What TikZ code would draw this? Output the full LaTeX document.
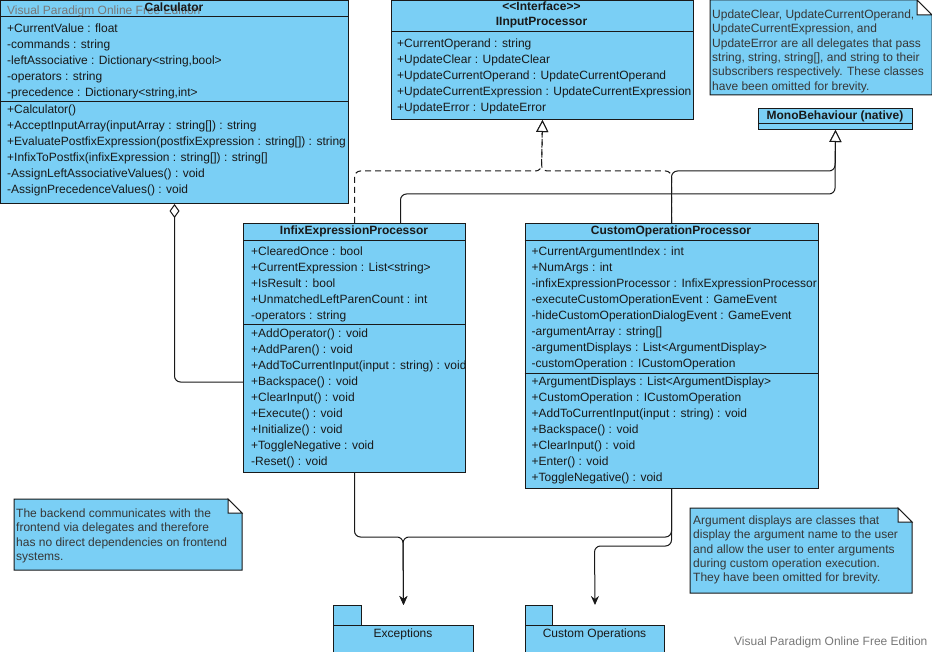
\documentclass[tikz,border=0pt]{standalone}
\usepackage{fontspec}
\setmainfont{Liberation Sans}
\usetikzlibrary{arrows.meta,calc,positioning}
\definecolor{umlblue}{RGB}{122,207,245}
\definecolor{umlline}{RGB}{25,25,25}
\definecolor{notetext}{RGB}{55,55,55}
\definecolor{wmgray}{RGB}{120,120,120}
\tikzset{
    cls/.style = {draw=umlline, fill=umlblue, line width=1pt, rectangle,
        inner sep=0pt, anchor=north west},
    cname/.style = {font=\fontsize{12}{14}\selectfont\bfseries, inner sep=0pt,
        text=umlline, text height=9pt, text depth=2pt},
    row/.style = {anchor=west, inner sep=0pt, text=umlline,
        text height=9pt, text depth=2pt},
    sep/.style = {draw=umlline, line width=1pt},
    notebox/.style = {draw=umlline, fill=umlblue, line width=1pt},
    fold/.style = {draw=umlline, fill=white, line width=1pt},
    notetxt/.style = {anchor=north west, inner sep=0pt, align=left, text=notetext,
        font=\fontsize{12}{14.4}\selectfont},
    pkg/.style = {draw=umlline, fill=umlblue, line width=1pt, rectangle,
        inner sep=0pt, anchor=north west},
    wm/.style = {inner sep=0pt, text=wmgray, anchor=west},
    realize/.style = {draw=umlline, line width=1pt, dash pattern=on 6pt off 4pt,
        rounded corners=6pt, -{Triangle[open,length=12pt,width=12pt,fill=white]}},
    inherit/.style = {draw=umlline, line width=1pt, rounded corners=6pt,
        -{Triangle[open,length=12pt,width=12pt,fill=white]}},
    aggr/.style = {draw=umlline, line width=1pt, rounded corners=6pt,
        {Diamond[open,length=14pt,width=10pt,fill=white]}-},
    dep/.style = {draw=umlline, line width=1pt, rounded corners=6pt,
        -{Stealth[length=9pt,width=8pt]}}
}

\begin{document}
\begin{tikzpicture}[x=1pt, y=-1pt, font=\fontsize{12}{14}\selectfont]
    \clip (0,0) rectangle (932,652);
    \fill[white] (0,0) rectangle (932,652);

    % Calculator
    \node[cls, minimum width=348, minimum height=203] (calc) at (0,0) {};
    \draw[sep] (0,17) -- (348,17) (0,102) -- (348,102);
    \node[wm] (wmtop) at (7,11) {Visual Paradigm Online Free Edition};
    \node[cname] (calcname) at (174,8) {Calculator};
    \foreach \t [count=\i] in {{+CurrentValue : float}, {-commands : string},
        {-leftAssociative : Dictionary<string,bool>}, {-operators : string},
        {-precedence : Dictionary<string,int>}}
        \node[row] (calc-a\i) at (7,{13+16*\i}) {\t};
    \foreach \t [count=\i] in {{+Calculator()}, {+AcceptInputArray(inputArray : string[]) : string},
        {+EvaluatePostfixExpression(postfixExpression : string[]) : string},
        {+InfixToPostfix(infixExpression : string[]) : string[]},
        {-AssignLeftAssociativeValues() : void}, {-AssignPrecedenceValues() : void}}
        \node[row] (calc-m\i) at (7,{94.5+16*\i}) {\t};

    % IInputProcessor
    \node[cls, minimum width=302, minimum height=119] (iip) at (391,0) {};
    \draw[sep] (391,32) -- (693,32);
    \node[cname] (iipst) at (541.5,7.5) {<\kern0pt<Interface>\kern0pt>};
    \node[cname] (iipname) at (541.5,22.5) {IInputProcessor};
    \foreach \t [count=\i] in {{+CurrentOperand : string}, {+UpdateClear : UpdateClear},
        {+UpdateCurrentOperand : UpdateCurrentOperand},
        {+UpdateCurrentExpression : UpdateCurrentExpression},
        {+UpdateError : UpdateError}}
        \node[row] (iip-a\i) at (397,{28.5+16*\i}) {\t};

    % MonoBehaviour
    \node[cls, minimum width=154, minimum height=21] (mono) at (758,108) {};
    \draw[sep] (758,124) -- (912,124);
    \node[cname] (mononame) at (835,116) {MonoBehaviour (native)};

    % InfixExpressionProcessor
    \node[cls, minimum width=222, minimum height=249] (iep) at (243,223) {};
    \draw[sep] (243,240.5) -- (465,240.5) (243,325) -- (465,325);
    \node[cname] (iepname) at (354,231) {InfixExpressionProcessor};
    \foreach \t [count=\i] in {{+ClearedOnce : bool}, {+CurrentExpression : List<string>},
        {+IsResult : bool}, {+UnmatchedLeftParenCount : int}, {-operators : string}}
        \node[row] (iep-a\i) at (251,{235.7+16*\i}) {\t};
    \foreach \t [count=\i] in {{+AddOperator() :  void}, {+AddParen() : void},
        {+AddToCurrentInput(input : string) : void}, {+Backspace() : void},
        {+ClearInput() : void}, {+Execute() : void}, {+Initialize() : void},
        {+ToggleNegative : void}, {-Reset() : void}}
        \node[row] (iep-m\i) at (251,{317.7+16*\i}) {\t};

    % CustomOperationProcessor
    \node[cls, minimum width=293, minimum height=265] (cop) at (524.5,223) {};
    \draw[sep] (524.5,240.5) -- (817.5,240.5) (524.5,373.5) -- (817.5,373.5);
    \node[cname] (copname) at (671,231) {CustomOperationProcessor};
    \foreach \t [count=\i] in {{+CurrentArgumentIndex : int}, {+NumArgs : int},
        {-infixExpressionProcessor : InfixExpressionProcessor},
        {-executeCustomOperationEvent : GameEvent},
        {-hideCustomOperationDialogEvent : GameEvent},
        {-argumentArray : string[]}, {-argumentDisplays : List<ArgumentDisplay>},
        {-customOperation : ICustomOperation}}
        \node[row] (cop-a\i) at (531.5,{235.7+16*\i}) {\t};
    \foreach \t [count=\i] in {{+ArgumentDisplays : List<ArgumentDisplay>},
        {+CustomOperation : ICustomOperation},
        {+AddToCurrentInput(input : string) : void}, {+Backspace() : void},
        {+ClearInput() : void}, {+Enter() : void}, {+ToggleNegative() : void}}
        \node[row] (cop-m\i) at (531.5,{365.7+16*\i}) {\t};

    % notes
    \draw[notebox] (710,0) -- (917,0) -- (932,15) -- (932,95) -- (710,95) -- cycle;
    \draw[fold] (917,0) -- (917,15) -- (932,15) -- cycle;
    \node[notetxt] (delegnote) at (712,9.5) {UpdateClear, UpdateCurrentOperand,\\
        UpdateCurrentExpression, and\\UpdateError are all delegates that pass\\
        string, string, string[], and string to their\\
        subscribers respectively. These classes\\have been omitted for brevity.};

    \draw[notebox] (14,499) -- (228,499) -- (242,513) -- (242,570) -- (14,570) -- cycle;
    \draw[fold] (228,499) -- (228,513) -- (242,513) -- cycle;
    \node[notetxt] (backnote) at (16,508.5) {The backend communicates with the\\
        frontend via delegates and therefore\\has no direct dependencies on frontend\\
        systems.};

    \draw[notebox] (690,508) -- (898,508) -- (912,522) -- (912,593) -- (690,593) -- cycle;
    \draw[fold] (898,508) -- (898,522) -- (912,522) -- cycle;
    \node[notetxt] (argnote) at (693,515.5) {Argument displays are classes that\\
        display the argument name to the user\\and allow the user to enter arguments\\
        during custom operation execution.\\They have been omitted for brevity.};

    % packages
    \node[pkg, minimum width=28, minimum height=21] (exctab) at (333,605) {};
    \node[pkg, minimum width=140, minimum height=45] (exc) at (333,625) {};
    \node[inner sep=0pt, text=umlline] (excname) at (403,634) {Exceptions};
    \node[pkg, minimum width=27, minimum height=21] (custtab) at (525,605) {};
    \node[pkg, minimum width=139, minimum height=45] (cust) at (525,625) {};
    \node[inner sep=0pt, text=umlline] (custname) at (594.5,634) {Custom Operations};

    \node[wm] (wmbottom) at (734,642) {Visual Paradigm Online Free Edition};

    % relations
    \draw[realize] (iep.north) |- (541.5,171) -- (iip.south);
    \draw[realize] (cop.north) |- (541.5,171) -- (iip.south);
    \draw[inherit] (cop.north) |- (835,171) -- (mono.south);
    \draw[inherit] ($(iep.north)+(46,0)$) |- (835,194) -- (mono.south);
    \draw[aggr] (calc.south) |- ($(iep.west)+(0,34)$);
    \draw[dep] (iep.south) |- (403,537) -- (exc.north |- exctab.north);
    \draw[dep] (cop.south) |- (403,537) -- (exc.north |- exctab.north);
    \draw[dep] (cop.south) |- (594.5,546) -- (cust.north |- custtab.north);
\end{tikzpicture}
\end{document}
